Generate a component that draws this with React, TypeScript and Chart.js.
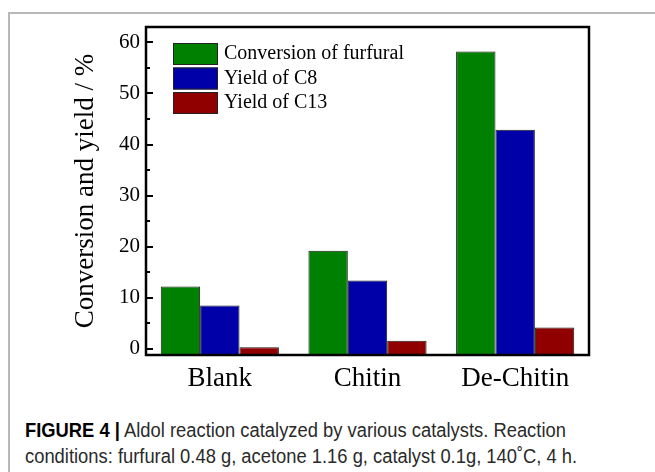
import React, { useEffect, useRef } from "react";
import { Chart, registerables } from "chart.js";

Chart.register(...registerables);

const categories = ["Blank", "Chitin", "De-Chitin"];
const seriesNames = ["Conversion of furfural", "Yield of C8", "Yield of C13"];
const conversionFurfural = [12.2, 19.2, 58.2];
const yieldC8 = [8.5, 13.4, 42.9];
const yieldC13 = [0.3, 1.6, 4.2];
const seriesColors = ["#008000", "#0000a8", "#900000"];
const Y_MIN = -1.2;
const Y_MAX = 63;
const Y_STEP = 10;
const Y_MINOR_STEP = 5;
const yTitle = "Conversion and yield / %";
const captionBold = "FIGURE 4 |";
const captionLine1 = " Aldol reaction catalyzed by various catalysts. Reaction";
const captionLine2 = "conditions: furfural 0.48 g, acetone 1.16 g, catalyst 0.1g, 140˚C, 4 h.";

const SERIF = "'Liberation Serif', 'Times New Roman', serif";

const framePlugin = {
  id: "frameAndTicks",
  afterDatasetsDraw(chart: any) {
    const { ctx, chartArea } = chart;
    const y = chart.scales.y;
    ctx.save();
    ctx.strokeStyle = "#000";
    ctx.lineWidth = 2;
    for (let v = 0; v <= Y_MAX; v += Y_MINOR_STEP) {
      const py = Math.round(y.getPixelForValue(v));
      const major = v % Y_STEP === 0;
      ctx.beginPath();
      ctx.moveTo(chartArea.left, py);
      ctx.lineTo(chartArea.left + (major ? 7 : 4), py);
      ctx.stroke();
    }
    ctx.lineWidth = 2.5;
    ctx.strokeStyle = "#000";
    ctx.strokeRect(chartArea.left, chartArea.top, chartArea.right - chartArea.left, chartArea.bottom - chartArea.top);
    const sx = chartArea.left + 27;
    let sy = chartArea.top + 16;
    ctx.font = "20px " + SERIF;
    ctx.textBaseline = "middle";
    ctx.textAlign = "left";
    chart.data.datasets.forEach((ds: any) => {
      ctx.fillStyle = ds.backgroundColor;
      ctx.fillRect(sx, sy, 45, 22);
      ctx.lineWidth = 1;
      ctx.strokeStyle = "#222";
      ctx.strokeRect(sx + 0.5, sy + 0.5, 44, 21);
      ctx.fillStyle = "#000";
      ctx.fillText(ds.label, sx + 51, sy + 11);
      sy += 24.5;
    });
    ctx.restore();
  },
};

function App() {
  const ref = useRef<HTMLCanvasElement>(null);
  useEffect(() => {
    const values = [conversionFurfural, yieldC8, yieldC13];
    const chart = new Chart(ref.current!, {
      type: "bar",
      data: {
        labels: categories,
        datasets: seriesNames.map((name, i) => ({
          label: name,
          data: values[i],
          backgroundColor: seriesColors[i],
          borderColor: "#1a1a1a",
          borderWidth: 1,
          base: Y_MIN,
          barPercentage: 1,
          categoryPercentage: 0.8,
        })),
      },
      options: {
        animation: false,
        responsive: false,
        devicePixelRatio: 1,
        layout: { padding: { left: 0, top: 27, right: 66, bottom: 0 } },
        plugins: { legend: { display: false }, tooltip: { enabled: false } },
        scales: {
          x: {
            type: "category",
            offset: true,
            grid: { display: false, drawTicks: false },
            border: { display: false },
            ticks: { color: "#000", font: { family: SERIF, size: 27 }, padding: 8 },
            afterFit: (s: any) => { s.height = 45; },
          },
          y: {
            type: "linear",
            min: Y_MIN,
            max: Y_MAX,
            grid: { display: false, drawTicks: false },
            border: { display: false },
            ticks: {
              stepSize: Y_STEP,
              includeBounds: false,
              color: "#000",
              font: { family: SERIF, size: 21 },
              padding: 6,
              callback: (v: any) => (Number(v) % Y_STEP === 0 ? String(v) : ""),
            },
            title: {
              display: true,
              text: yTitle,
              color: "#000",
              font: { family: SERIF, size: 27 },
              padding: { top: 70, bottom: 0 },
            },
            afterFit: (s: any) => { s.width = 146; },
          },
        },
      },
      plugins: [framePlugin],
    });
    return () => chart.destroy();
  }, []);

  return (
    <div style={{ position: "fixed", left: 0, top: 0, width: 655, height: 472, background: "#fff", overflow: "hidden" }}>
      <div style={{ position: "absolute", left: 8, top: 12, width: 647, height: 2, background: "#b8b8b8" }} />
      <div style={{ position: "absolute", left: 8, top: 12, width: 2, height: 460, background: "#b8b8b8" }} />
      <canvas ref={ref} width={655} height={400} style={{ position: "absolute", left: 0, top: 0, width: 655, height: 400 }} />
      <div
        style={{
          position: "absolute",
          left: 25,
          top: 417,
          fontFamily: "'Liberation Sans', Arial, sans-serif",
          fontSize: 20,
          lineHeight: "26px",
          color: "#2a2a2a",
          whiteSpace: "nowrap",
          transform: "scaleX(0.918)",
          transformOrigin: "left top",
        }}
      >
        <div>
          <span style={{ fontWeight: "bold", color: "#000" }}>{captionBold}</span>
          {captionLine1}
        </div>
        <div>{captionLine2}</div>
      </div>
    </div>
  );
}

export default App;
